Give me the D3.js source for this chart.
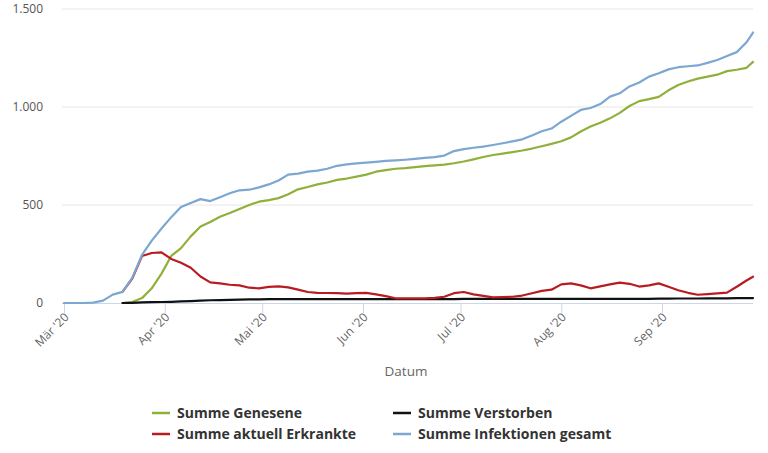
<!DOCTYPE html>
<html><head><meta charset="utf-8">
<script src="https://cdn.jsdelivr.net/npm/d3@7"></script>
<style>
body{margin:0;background:#fff}
text{font-family:"Open Sans",sans-serif}
</style>
</head><body>
<svg id="c" width="768" height="453"></svg>
<script>
const dates = ["2020-03-01","2020-03-04","2020-03-07","2020-03-10","2020-03-13","2020-03-16","2020-03-19","2020-03-22","2020-03-25","2020-03-28","2020-03-31",
"2020-04-03","2020-04-06","2020-04-09","2020-04-12","2020-04-15","2020-04-18","2020-04-21","2020-04-24","2020-04-27","2020-04-30",
"2020-05-03","2020-05-06","2020-05-09","2020-05-12","2020-05-15","2020-05-18","2020-05-21","2020-05-24","2020-05-27","2020-05-30",
"2020-06-02","2020-06-05","2020-06-08","2020-06-11","2020-06-14","2020-06-17","2020-06-20","2020-06-23","2020-06-26","2020-06-29",
"2020-07-02","2020-07-05","2020-07-08","2020-07-11","2020-07-14","2020-07-17","2020-07-20","2020-07-23","2020-07-26","2020-07-29",
"2020-08-01","2020-08-04","2020-08-07","2020-08-10","2020-08-13","2020-08-16","2020-08-19","2020-08-22","2020-08-25","2020-08-28","2020-08-31",
"2020-09-03","2020-09-06","2020-09-09","2020-09-12","2020-09-15","2020-09-18","2020-09-21","2020-09-24","2020-09-27","2020-09-29"];

const genesene = [null,null,null,null,null,null,0,5,25,75,150,240,280,340,390,413,440,459,480,500,517,525,535,555,580,592,605,615,628,635,645,655,670,678,685,688,693,698,702,706,713,722,733,745,755,762,770,778,788,800,812,825,845,875,900,920,942,970,1005,1030,1040,1052,1085,1112,1130,1145,1155,1165,1183,1190,1200,1230];

const verstorben = [null,null,null,null,null,null,0,1,3,4,5,6,8,10,12,14,15,16,17,18,19,20,20,20,20,20,20,20,20,20,20,20,20,20,20,20,20,20,20,20,20,21,21,21,21,21,21,21,21,21,21,21,21,21,21,21,21,21,21,21,21,22,22,23,23,23,24,24,24,25,25,25];

const aktuellErkrankte = [null,null,null,null,null,null,57,125,240,255,258,225,205,180,135,105,100,93,90,78,75,82,85,80,68,56,52,51,50,48,50,52,44,35,24,24,24,24,26,32,50,56,44,36,29,30,32,38,50,62,68,95,100,90,75,85,95,104,98,84,90,100,83,65,52,42,45,49,53,83,115,134];

const infektionenGesamt = [0,0,0,2,12,43,57,128,245,318,380,438,490,510,530,520,540,560,575,578,590,605,625,655,660,670,675,685,700,707,712,716,720,725,728,731,735,740,744,752,775,785,792,798,806,815,825,835,855,876,890,925,955,985,995,1015,1053,1070,1105,1125,1155,1172,1192,1203,1208,1212,1225,1240,1260,1280,1330,1380];

const seriesNames = ["Summe Genesene","Summe Verstorben","Summe aktuell Erkrankte","Summe Infektionen gesamt"];
const seriesColors = ["#8fb03a","#111111","#b81c22","#7ba7d1"];
const yTicks = [0,500,1000,1500];
const xTickDates = ["2020-03-01","2020-04-01","2020-05-01","2020-06-01","2020-07-01","2020-08-01","2020-09-01"];
const monthNames = ["Jan","Feb","Mär","Apr","Mai","Jun","Jul","Aug","Sep","Okt","Nov","Dez"];
const xTitle = "Datum";

const parse = d3.timeParse("%Y-%m-%d");
const D = dates.map(parse);
const seriesVals = [genesene, verstorben, aktuellErkrankte, infektionenGesamt];

const plotL = 62, plotR = 753, plotT = 9, plotB = 303;
const svg = d3.select("#c");
svg.append("rect").attr("width",768).attr("height",453).attr("fill","#fff");

const x = d3.scaleTime().domain([D[0], D[D.length-1]]).range([64, plotR]);
const y = d3.scaleLinear().domain([0,1500]).range([plotB, plotT]);

const loc = d3.formatLocale({decimal:",", thousands:".", grouping:[3], currency:["","€"]});
const fmt = loc.format(",");

// grid + y labels
const yAxis = d3.axisLeft(y).tickValues(yTicks).tickFormat(fmt).tickSize(0).tickPadding(0);
const yg = svg.append("g").attr("transform",`translate(${plotL-19},0)`).call(yAxis);
yg.select(".domain").remove();
yg.selectAll("text").attr("fill","#555").style("font-size","12px").style("font-family","'Open Sans',sans-serif");

svg.append("g").selectAll("line").data(yTicks.filter(v=>v>0)).join("line")
  .attr("x1",plotL).attr("x2",plotR).attr("y1",d=>y(d)).attr("y2",d=>y(d))
  .attr("stroke","#e6e6e6").attr("stroke-width",1);

// x axis
const xAxis = d3.axisBottom(x).tickValues(xTickDates.map(parse))
  .tickFormat(d=>monthNames[d.getMonth()]+" '"+String(d.getFullYear()).slice(2)).tickSize(10);
const xg = svg.append("g").attr("transform",`translate(0,${plotB})`).call(xAxis);
xg.select(".domain").remove();
xg.selectAll(".tick line").attr("stroke","#ccd6eb");
xg.selectAll("text").attr("x",0).attr("y",0).attr("dy",0)
  .attr("text-anchor","end").attr("transform","translate(5,15) rotate(-45)")
  .attr("fill","#666").style("font-size","12px").style("font-family","'Open Sans',sans-serif");
svg.append("line").attr("x1",plotL).attr("x2",plotR).attr("y1",plotB+0.5).attr("y2",plotB+0.5)
  .attr("stroke","#ccd6eb").attr("stroke-width",1);

svg.append("text").attr("x",406).attr("y",376).attr("text-anchor","middle")
  .attr("fill","#666").style("font-size","13.5px").text(xTitle);

// lines
const line = d3.line().defined(d=>d.v!=null).x(d=>x(d.d)).y(d=>y(d.v)).curve(d3.curveLinear);
seriesVals.forEach((vals,i)=>{
  const pts = vals.map((v,j)=>({d:D[j], v:v}));
  svg.append("path").datum(pts).attr("d",line).attr("fill","none")
    .attr("stroke",seriesColors[i]).attr("stroke-width",2.2)
    .attr("stroke-linejoin","round").attr("stroke-linecap","round");
});

// legend
const legPos = [[152,413],[393,413],[152,434],[393,434]];
const lg = svg.append("g").selectAll("g").data(seriesNames).join("g")
  .attr("transform",(d,i)=>`translate(${legPos[i][0]},${legPos[i][1]})`);
lg.append("line").attr("x1",0).attr("x2",18).attr("y1",0).attr("y2",0)
  .attr("stroke",(d,i)=>seriesColors[i]).attr("stroke-width",2.5);
lg.append("text").attr("x",25).attr("dy","0.35em").attr("fill","#333")
  .style("font-size","14px").style("font-weight","bold").text(d=>d);
</script>
</body></html>
